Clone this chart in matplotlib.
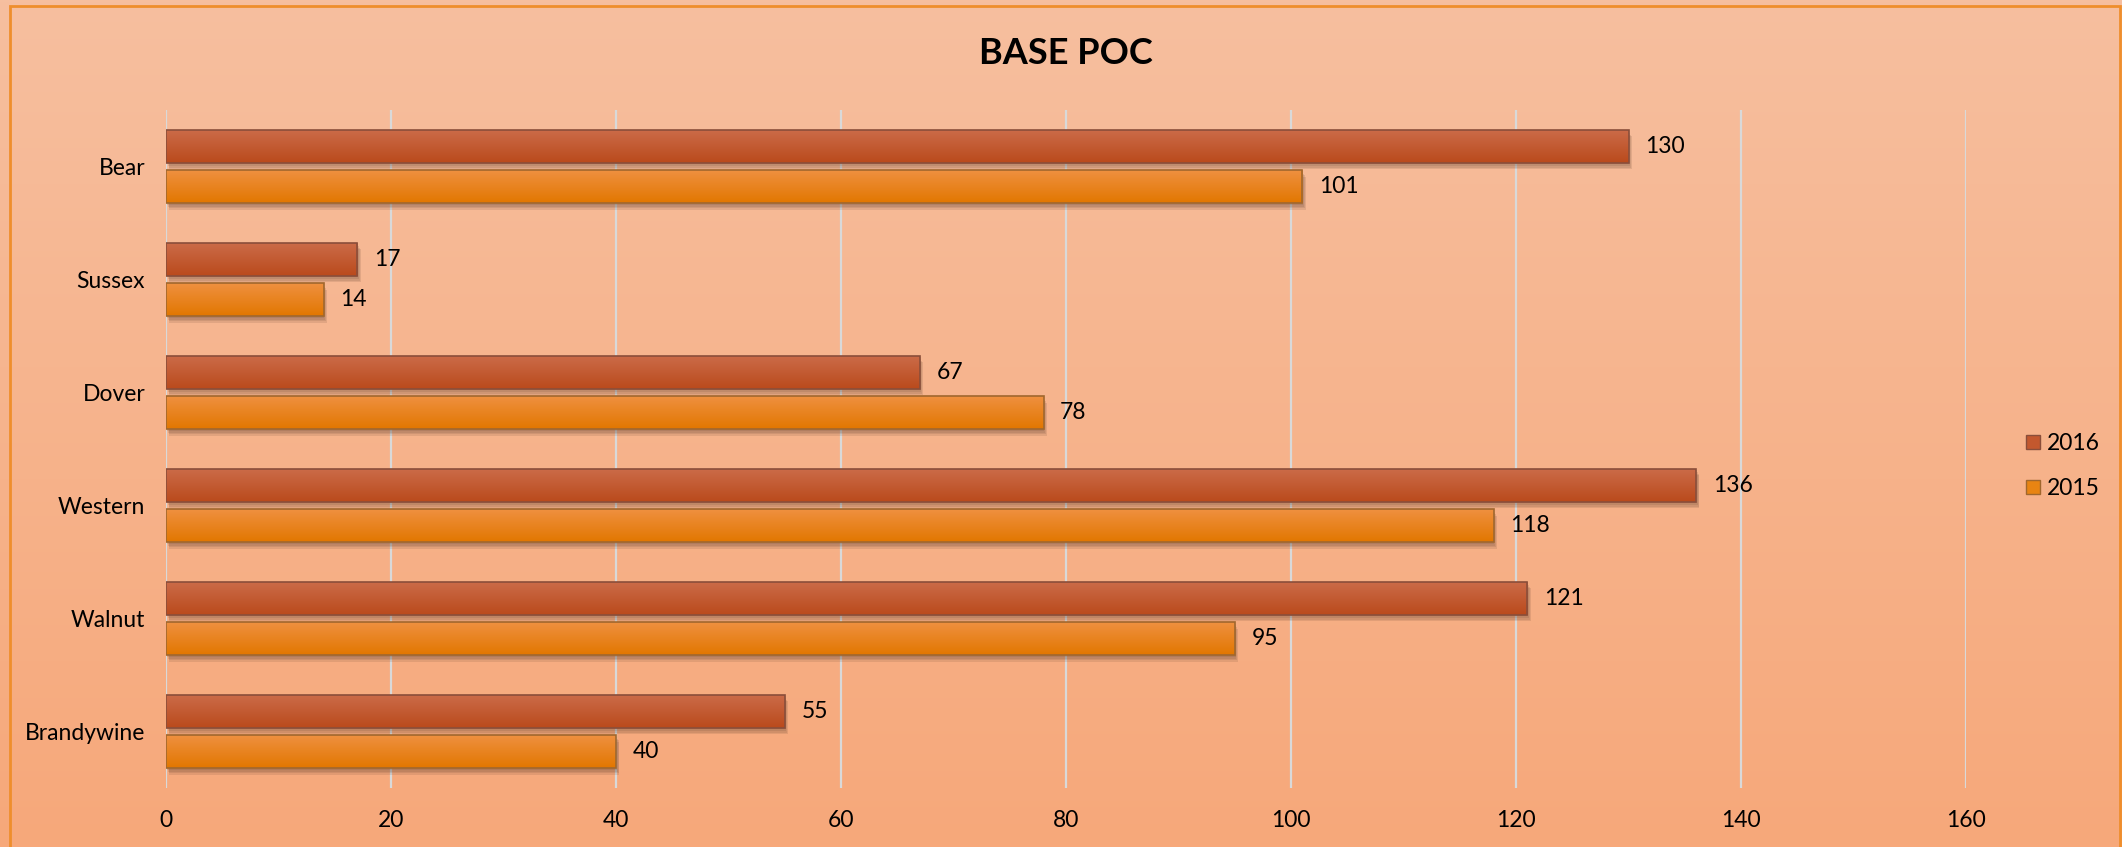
import matplotlib
matplotlib.use("Agg")
import matplotlib.pyplot as plt
import matplotlib.patheffects as pe
from matplotlib.patches import Patch, Rectangle
import numpy as np

plt.rcParams['font.family'] = ['Lato', 'DejaVu Sans']

sites = ["Brandywine", "Walnut", "Western", "Dover", "Sussex", "Bear"]
poc_2016 = [55, 121, 136, 67, 17, 130]
poc_2015 = [40, 95, 118, 78, 14, 101]
x_ticks = [0, 20, 40, 60, 80, 100, 120, 140, 160]

W, H = 2122, 847
FS = 16.5
fig = plt.figure(figsize=(W / 100, H / 100), dpi=100)

# background gradient over the whole figure
bg = fig.add_axes([0, 0, 1, 1], zorder=-10)
top_c = np.array([246, 191, 159]) / 255
bot_c = np.array([247, 168, 122]) / 255
t = np.linspace(0, 1, 256)[:, None]
grad = top_c * (1 - t) + bot_c * t
bg.imshow(grad[:, None, :].repeat(2, axis=1), aspect='auto', extent=[0, 1, 0, 1])
bg.set_xlim(0, 1)
bg.set_ylim(0, 1)
bg.axis('off')
bg.add_patch(Rectangle((10 / W, -0.05), (2120 - 10) / W, 1.05 - 6 / H,
                       fill=False, edgecolor='#EF8E2C', lw=2))

ax = fig.add_axes([166 / W, 1 - 788 / H, 1800 / W, (788 - 110) / H])
ax.patch.set_alpha(0)

y = np.arange(len(sites))
off = 0.18
h = 0.29

# soft drop shadow: a few stacked offsets with low alpha
shadow = [pe.SimplePatchShadow(offset=(0.6 * k, -1.2 * k), shadow_rgbFace='#5a3a2a', alpha=0.13)
          for k in (1, 2, 3, 4)] + [pe.Normal()]


def gradient_bars(vals, ypos, light, dark, edge):
    bars = ax.barh(ypos, vals, height=h, color=dark, zorder=2, path_effects=shadow)
    light = np.array(matplotlib.colors.to_rgb(light))
    dark = np.array(matplotlib.colors.to_rgb(dark))
    s = np.linspace(0, 1, 64)[:, None]
    g = (dark * (1 - s) + light * s)[:, None, :].repeat(2, axis=1)
    for b in bars:
        x0, y0, w, hh = b.get_x(), b.get_y(), b.get_width(), b.get_height()
        im = ax.imshow(g, origin='lower', aspect='auto', extent=[x0, x0 + w, y0, y0 + hh],
                       zorder=2.5, interpolation='bilinear')
        im.set_clip_path(b)
    ax.barh(ypos, vals, height=h, fill=False, edgecolor=edge, lw=1.2, zorder=3)
    for v, yy in zip(vals, ypos):
        ax.annotate(str(v), (v, yy), xytext=(12, 0), textcoords='offset points',
                    va='center', ha='left', fontsize=FS, color='black')


gradient_bars(poc_2016, y + off, '#CB6B48', '#BA4A1C', '#8A4E3A')
gradient_bars(poc_2015, y - off, '#EF9040', '#E27700', '#A0672E')

ax.set_xlim(0, 160)
ax.set_ylim(-0.5, 5.5)
ax.set_xticks(x_ticks)
ax.set_yticks(y)
ax.set_yticklabels(sites)
ax.tick_params(axis='both', length=0, labelsize=FS, colors='black')
ax.tick_params(axis='y', pad=15)
ax.tick_params(axis='x', pad=16)
ax.grid(axis='x', color='#D9D9D9', lw=1.6)
ax.grid(axis='y', visible=False)
ax.set_axisbelow(True)
for sp in ax.spines.values():
    sp.set_visible(False)

fig.text(1066 / W, 1 - 53 / H, "BASE POC", ha='center', va='center',
         fontsize=26, fontweight='bold', color='black')

handles = [Patch(facecolor='#C3582E', edgecolor='#8A4E3A', label='2016'),
           Patch(facecolor='#E88412', edgecolor='#A0672E', label='2015')]
fig.legend(handles=handles, loc='center left', bbox_to_anchor=(2026 / W, 1 - 466 / H),
           frameon=False, fontsize=FS, handlelength=0.6, handleheight=0.6,
           handletextpad=0.3, labelspacing=1.05, borderpad=0, borderaxespad=0)

fig.savefig("out.png", dpi=100)
